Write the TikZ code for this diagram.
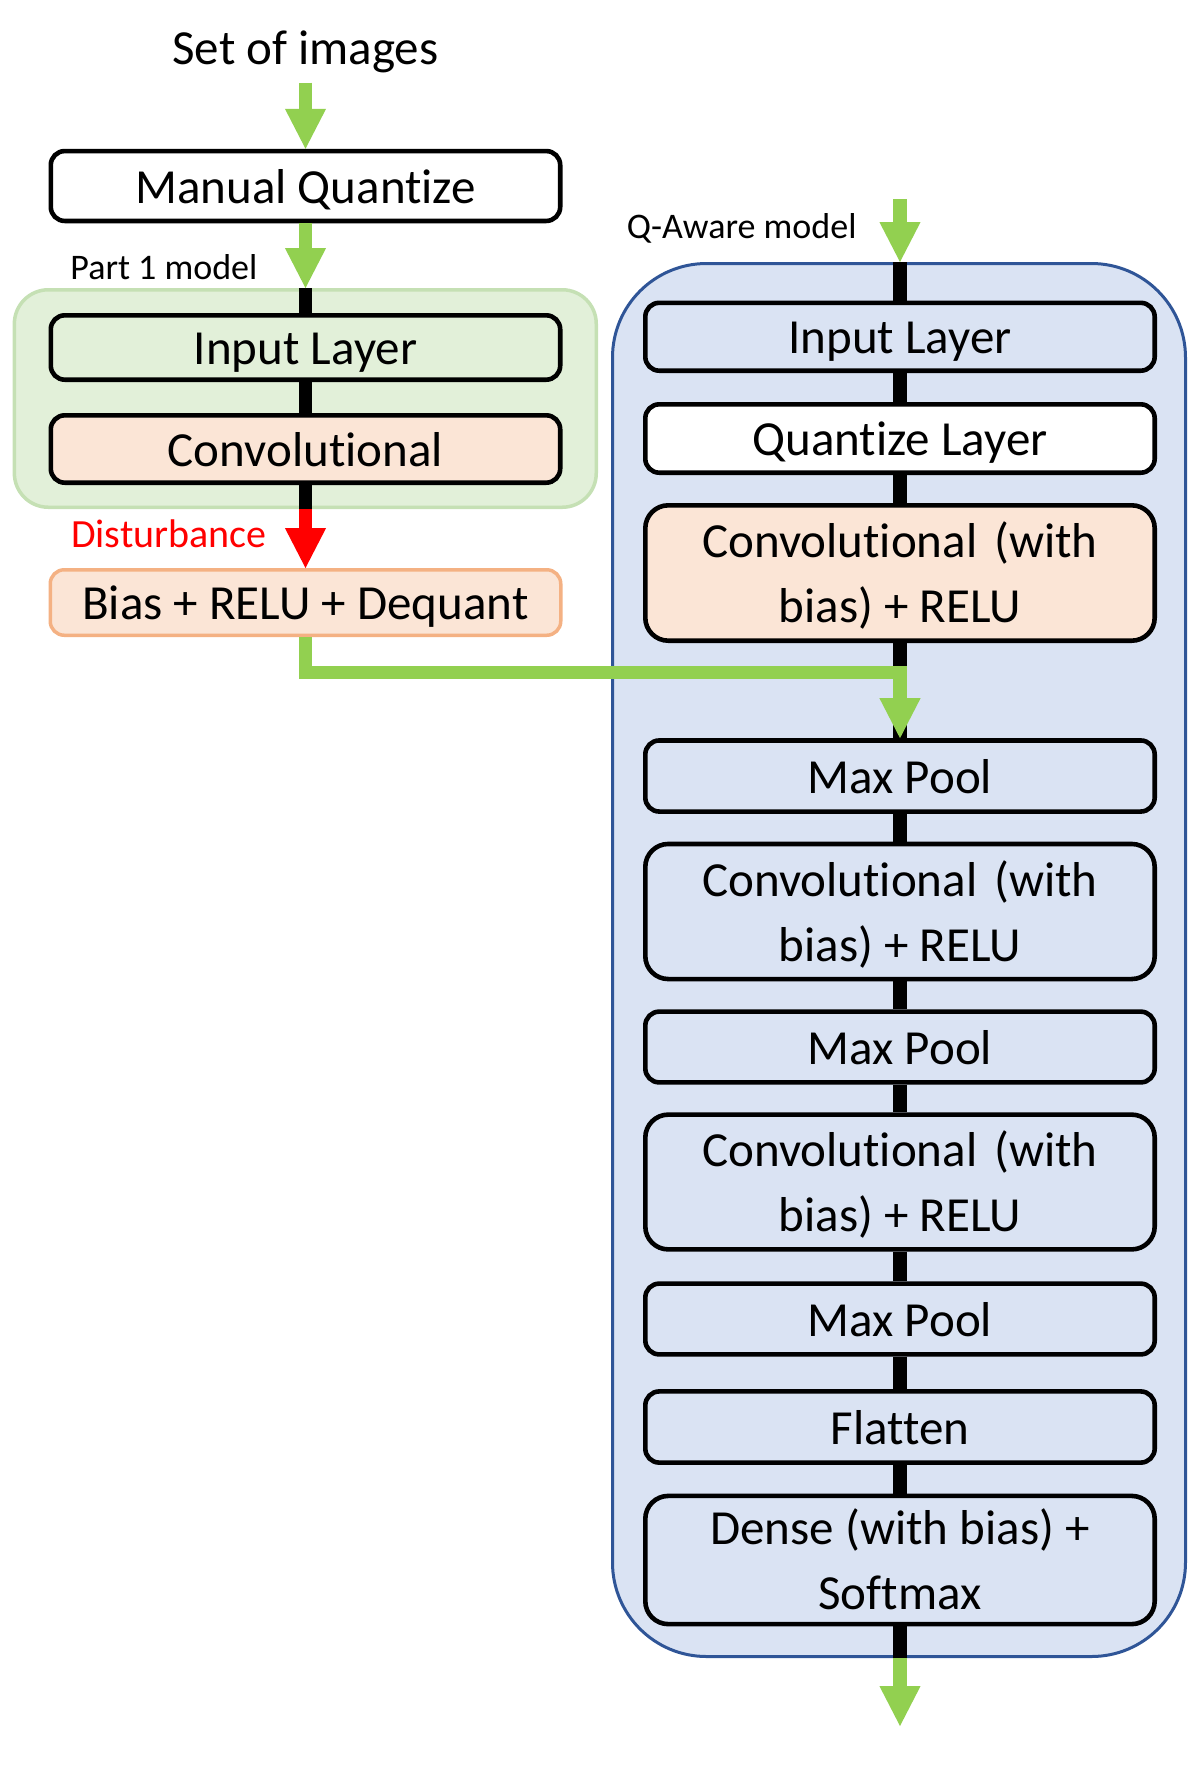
\documentclass[tikz,border=0pt]{standalone}
\usepackage{fontspec}
\setmainfont{Carlito}[Ligatures={NoCommon}]
\usetikzlibrary{arrows.meta}
\definecolor{agreen}{HTML}{92D050}
\definecolor{gfill}{HTML}{E2F0D9}
\definecolor{gborder}{HTML}{C5E0B4}
\definecolor{ofill}{HTML}{FBE5D6}
\definecolor{oborder}{HTML}{F4B183}
\definecolor{bfill}{HTML}{DAE3F3}
\definecolor{bborder}{HTML}{2F5597}
\newcommand{\bs}{\rule[-7pt]{0pt}{31pt}}
\begin{document}
\begin{tikzpicture}[x=0.5pt,y=-0.5pt,
  layer/.style={draw=black, line width=2.3pt, rounded corners=7pt, minimum width=254.7pt,
    inner sep=0pt, align=center, font=\fontsize{24.5pt}{32.5pt}\selectfont, fill=white},
  tall/.style={rounded corners=11.5pt},
  wire/.style={line width=6.7pt, black},
  garrow/.style={line width=6.7pt, draw=agreen, -{Triangle[length=20pt,width=20.6pt,line width=0pt,fill=agreen]}},
  rarrow/.style={line width=6.7pt, draw=red, -{Triangle[length=20pt,width=20.6pt,line width=0pt,fill=red]}},
  lbl/.style={inner sep=0pt, anchor=base west}
]
\useasboundingbox (0,0) rectangle (1194,1769);

% containers
\node[draw=gborder, fill=gfill, line width=1.75pt, rounded corners=17pt,
      minimum width=290.95pt, minimum height=108.75pt, inner sep=0pt] (gbox) at (305.3,398.5) {};
\node[draw=bborder, fill=bfill, line width=1.5pt, rounded corners=47pt,
      minimum width=286.5pt, minimum height=696.5pt, inner sep=0pt] (bbox) at (899,960) {};

% texts
\node[inner sep=0pt, anchor=base, font=\fontsize{24.5pt}{30pt}\selectfont] (title) at (305.5,64.7) {Set of images};
\node[lbl, font=\fontsize{18pt}{22pt}\selectfont] (p1lbl) at (70,279) {Part 1 model};
\node[lbl, font=\fontsize{20pt}{24pt}\selectfont, text=red] (dist) at (70.8,547) {Disturbance};
\node[lbl, font=\fontsize{18pt}{22pt}\selectfont] (qlbl) at (626.5,238) {Q-Aware model};

% left column boxes
\node[layer, minimum height=34.95pt] (mq) at (305.5,186) {\bs Manual Quantize};
\node[layer, fill=gfill, minimum height=32.2pt] (in1) at (305.5,347.5) {\bs Input Layer};
\node[layer, fill=ofill, minimum height=33.7pt] (cv1) at (305.5,449) {\bs Convolutional};
\node[layer, draw=oborder, fill=ofill, line width=1.75pt, minimum width=255.25pt, minimum height=32.75pt] (bias) at (305.5,602.5) {\bs Bias + RELU + Dequant};

% right column boxes
\node[layer, fill=bfill, minimum height=33.95pt] (in2) at (900,336.75) {\bs Input Layer};
\node[layer, fill=white, minimum height=34.2pt] (qz) at (900,438.5) {\bs Quantize Layer};
\node[layer, tall, fill=ofill, minimum height=67.7pt] (c1) at (900,573) {\bs Convolutional\hspace{3pt} (with\\\bs bias) + RELU};
\node[layer, fill=bfill, minimum height=35.55pt] (mp1) at (900,776) {\bs Max Pool};
\node[layer, tall, fill=bfill, minimum height=67.55pt] (c2) at (900,911.5) {\bs Convolutional\hspace{3pt} (with\\\bs bias) + RELU};
\node[layer, fill=bfill, minimum height=35.4pt] (mp2) at (900,1047) {\bs Max Pool};
\node[layer, tall, fill=bfill, minimum height=67.4pt] (c3) at (900,1182) {\bs Convolutional\hspace{3pt} (with\\\bs bias) + RELU};
\node[layer, fill=bfill, minimum height=35.4pt] (mp3) at (900,1319) {\bs Max Pool};
\node[layer, fill=bfill, minimum height=35.6pt] (fl) at (900,1427) {\bs Flatten};
\node[layer, tall, fill=bfill, minimum height=64.1pt] (dn) at (900,1560) {\bs Dense (with bias) +\\\bs Softmax};

% free ends
\coordinate (tstart) at (305.5,82.6);
\coordinate (qstart) at (900,199);
\coordinate (qend) at (900,1726);
\coordinate (bend) at (305.5,672.5);

% black wires
\draw[wire] (gbox.north -| in1.north) -- (in1.north);
\draw[wire] (in1.south) -- (cv1.north);
\draw[wire] (cv1.south) -- (cv1.south |- gbox.south);
\draw[wire] (bbox.north -| in2.north) -- (in2.north);
\draw[wire] (in2.south) -- (qz.north);
\draw[wire] (qz.south) -- (c1.north);
\draw[wire] (c1.south) -- (mp1.north);
\draw[wire] (mp1.south) -- (c2.north);
\draw[wire] (c2.south) -- (mp2.north);
\draw[wire] (mp2.south) -- (c3.north);
\draw[wire] (c3.south) -- (mp3.north);
\draw[wire] (mp3.south) -- (fl.north);
\draw[wire] (fl.south) -- (dn.north);
\draw[wire] (dn.south) -- (dn.south |- bbox.south);

% arrows
\draw[garrow] (tstart) -- (mq.north);
\draw[garrow] (mq.south) -- (mq.south |- gbox.north);
\draw[rarrow] (cv1.south |- gbox.south) -- (bias.north);
\draw[garrow] (qstart) -- (qstart |- bbox.north);
\draw[garrow] (dn.south |- bbox.south) -- (qend);
\draw[garrow] (bias.south) -- (bend) -| (mp1.north);
\end{tikzpicture}
\end{document}
